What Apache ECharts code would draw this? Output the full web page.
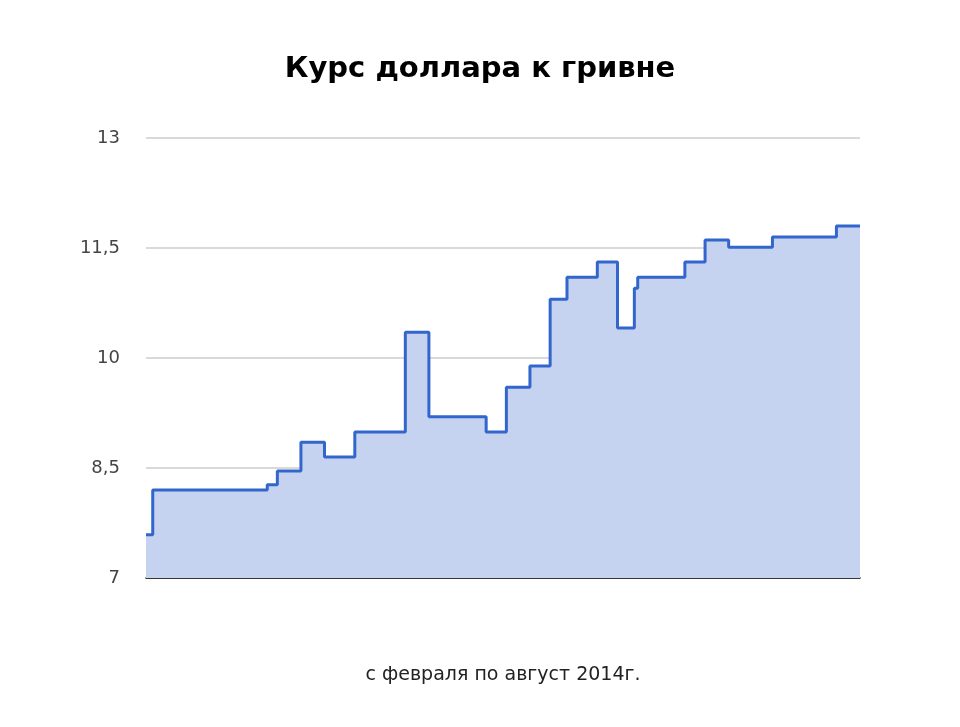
<!DOCTYPE html><html><head><meta charset="utf-8">
<script src="https://cdn.jsdelivr.net/npm/echarts@6/dist/echarts.min.js"></script>
<style>html,body{margin:0;background:#fff}#c{width:960px;height:727px}</style></head><body><div id="c"></div>
<script>
const days=[0,2,36,39,46,53,62,77,84,101,107,114,120,125,134,140,145,146,160,166,173,186,205,212];
const rates=[7.59,8.20,8.27,8.46,8.85,8.65,8.99,10.35,9.20,8.99,9.60,9.89,10.80,11.10,11.31,10.41,10.95,11.10,11.31,11.61,11.51,11.65,11.80,11.80];
const yTicks=[7,8.5,10,11.5,13];
const chart=echarts.init(document.getElementById('c'));
chart.setOption({
 title:{text:'Курс доллара к гривне',left:'center',top:50,textStyle:{fontFamily:'DejaVu Sans',fontSize:29,fontWeight:'bold',color:'#000'}},
 grid:{left:146,right:100,top:138,bottom:149},
 xAxis:{type:'value',min:0,max:212,axisLine:{show:true,lineStyle:{color:'#000',width:1.5}},axisTick:{show:false},axisLabel:{show:false},splitLine:{show:false},
  name:'с февраля по август 2014г.',nameLocation:'middle',nameGap:88,nameTextStyle:{fontFamily:'DejaVu Sans',fontSize:19,color:'#222'}},
 yAxis:{type:'value',min:7,max:13,interval:1.5,axisLine:{show:false},axisTick:{show:false},
  axisLabel:{fontFamily:'DejaVu Sans',fontSize:18,color:'#444',margin:26,formatter:v=>String(v).replace('.',',')},
  splitLine:{lineStyle:{color:'#ccc',width:1.5}}},
 series:[{type:'line',step:'end',data:days.map((d,i)=>[d,rates[i]]),symbol:'none',
  lineStyle:{color:'#3366cc',width:3},areaStyle:{color:'#c5d3f0',opacity:1}}]
});
</script></body></html>
